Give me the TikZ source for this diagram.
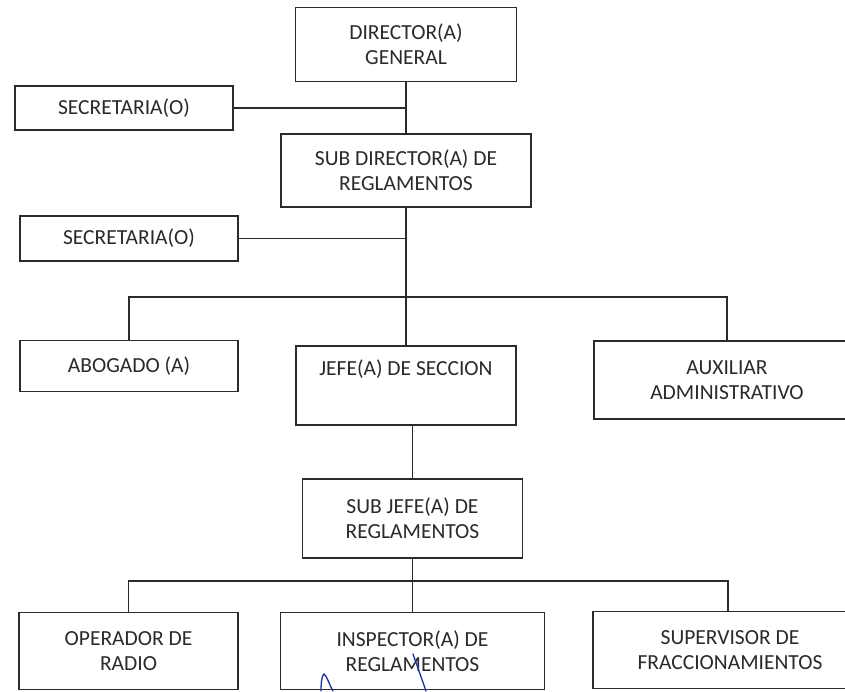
\documentclass[tikz,border=0pt]{standalone}
\usepackage{fontspec}
\setmainfont{Carlito}
\definecolor{linec}{HTML}{2B2B2B}
\definecolor{textc}{HTML}{2A2A2A}
\definecolor{sigc}{HTML}{1C2FA8}
\begin{document}
\begin{tikzpicture}[x=1pt,y=-1pt,
  box/.style={draw=linec, line width=1.6pt, inner sep=0pt, align=center, text=textc,
              font=\fontsize{21.5}{25}\selectfont},
  lbl/.style={text=textc, inner sep=0pt, font=\fontsize{21.5}{25}\selectfont},
  conn/.style={draw=linec, line width=1.6pt},
  sign/.style={draw=sigc, line width=1.3pt, line cap=round}]
\useasboundingbox (0,0) rectangle (845,691);
\clip (0,0) rectangle (845,691);
\fill[white] (0,0) rectangle (845,691);

% nodes
\node[box, minimum width=221pt, minimum height=74pt] (dir) at (406,44.5) {DIRECTOR(A)\\GENERAL};
\node[box, minimum width=218pt, minimum height=44pt] (sec1) at (124,108) {SECRETARIA(O)};
\node[box, minimum width=250pt, minimum height=73pt] (sub) at (406,170.5) {SUB DIRECTOR(A) DE\\REGLAMENTOS};
\node[box, minimum width=218pt, minimum height=45pt] (sec2) at (129,238.5) {SECRETARIA(O)};
\node[box, minimum width=218pt, minimum height=51pt] (abo) at (129,366) {ABOGADO (A)};
\node[box, minimum width=220pt, minimum height=79pt] (jefe) at (406,385.5) {};
\node[lbl] (jefet) at (406,369) {JEFE(A) DE SECCION};
\node[box, minimum width=266pt, minimum height=78pt] (aux) at (727,380) {AUXILIAR\\ADMINISTRATIVO};
\node[box, minimum width=220pt, minimum height=79pt] (subj) at (412.5,518.5) {SUB JEFE(A) DE\\REGLAMENTOS};
\node[box, minimum width=219pt, minimum height=77pt] (oper) at (128.5,651) {OPERADOR DE\\RADIO};
\node[box, minimum width=264pt, minimum height=77pt] (insp) at (412.5,651) {INSPECTOR(A) DE\\REGLAMENTOS};
\node[box, minimum width=274pt, minimum height=77pt] (sup) at (730,650) {SUPERVISOR DE\\FRACCIONAMIENTOS};

% connectors
\coordinate (bus1) at (406,297);
\coordinate (bus2) at (412.5,581);
\coordinate (supin) at (728,611.5);
\draw[conn] (dir.south) -- (sub.north);
\draw[conn] (sec1.east) -- (sec1.east -| dir.south);
\draw[conn] (sub.south) -- (jefe.north);
\draw[conn] (sec2.east) -- (sec2.east -| sub.south);
\draw[conn] (abo.north) |- (bus1) -| (aux.north);
\draw[conn] (jefe.south -| subj.north) -- (subj.north);
\draw[conn] (subj.south) -- (insp.north);
\draw[conn] (oper.north) |- (bus2) -| (supin);

% signature strokes
\draw[sign] (321,691) .. controls (321,682) and (322,675) .. (324,674) .. controls (327,676) and (329,684) .. (333,691);
\draw[sign] (413,654) -- (426,691);
\end{tikzpicture}
\end{document}
